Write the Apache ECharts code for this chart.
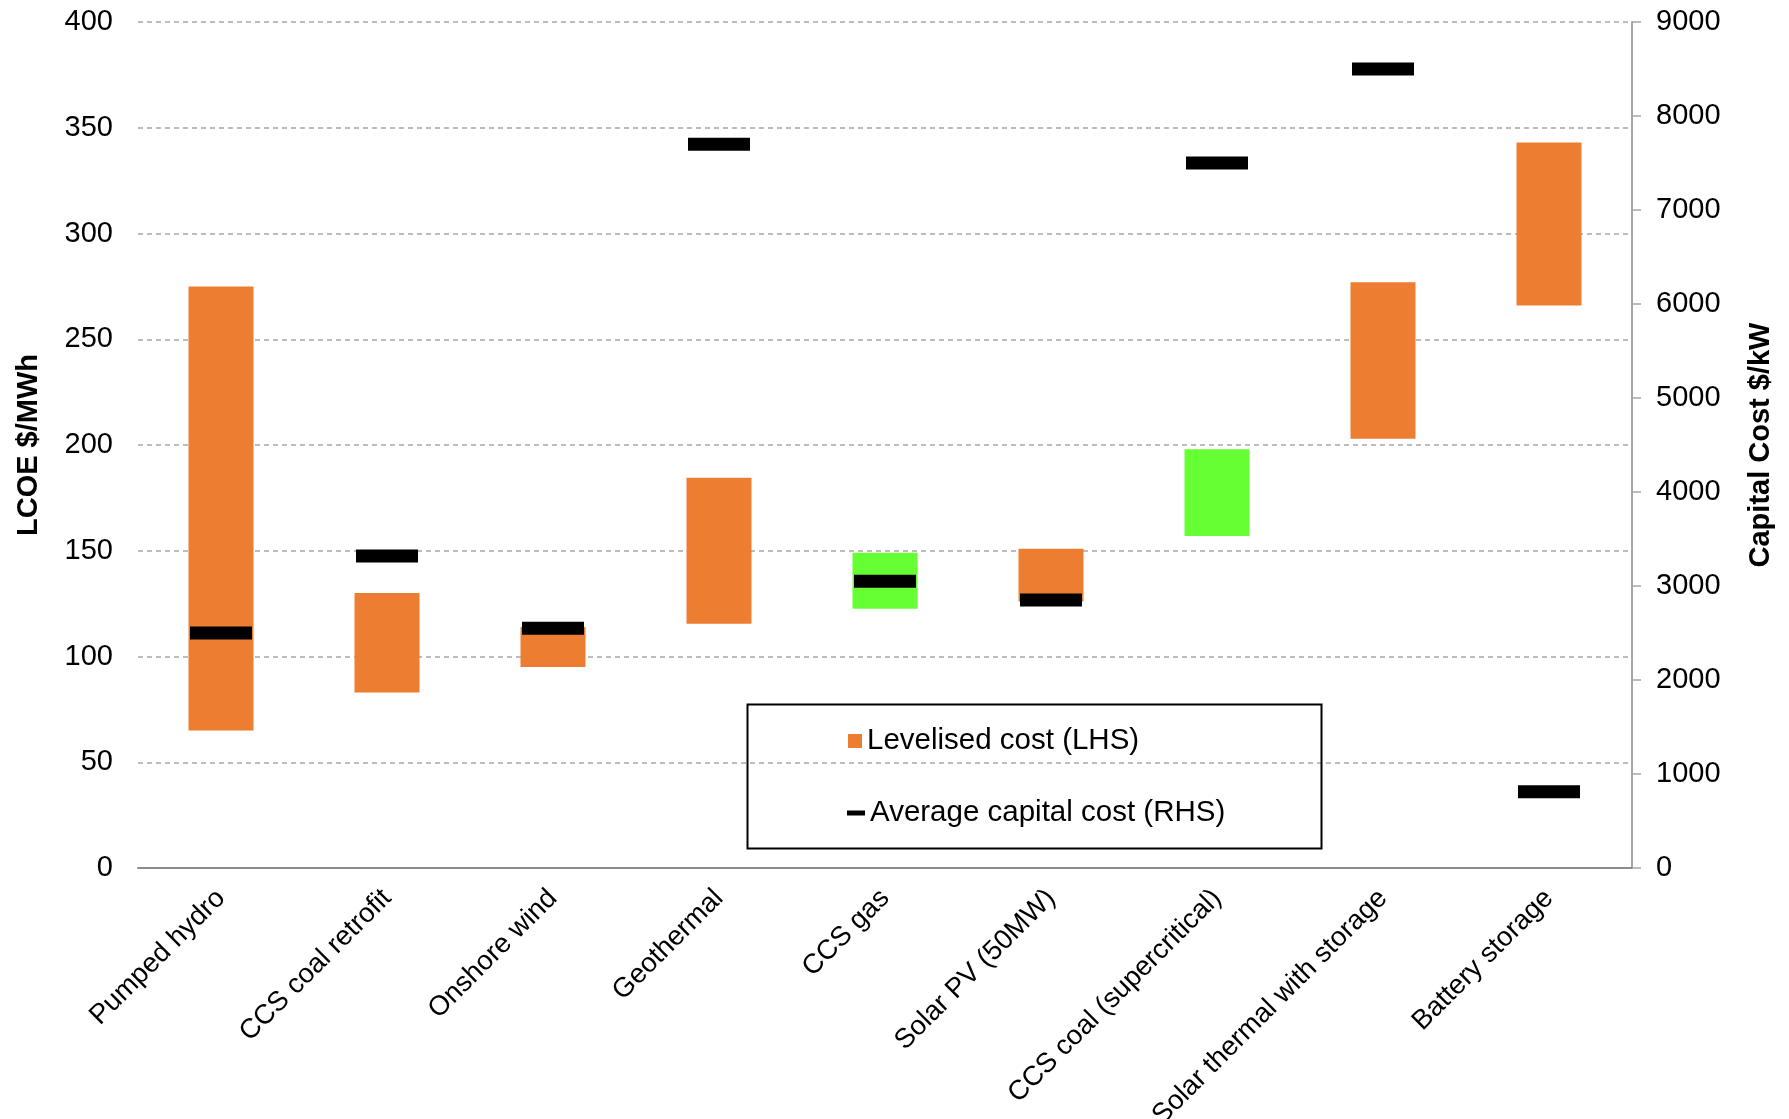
<!DOCTYPE html>
<html>
<head>
<meta charset="utf-8">
<script src="https://cdn.jsdelivr.net/npm/echarts@6/dist/echarts.min.js"></script>
<style>
html,body{margin:0;padding:0;background:#fff;}
#chart{width:1789px;height:1119px;}
</style>
</head>
<body>
<div id="chart"></div>
<script>
const categories = ['Pumped hydro','CCS coal retrofit','Onshore wind','Geothermal','CCS gas','Solar PV (50MW)','CCS coal (supercritical)','Solar thermal with storage','Battery storage'];
const lcoeLow  = [65, 83, 95, 115.5, 122.6, 126, 157, 203, 266];
const lcoeHigh = [275, 130, 114, 184.5, 149, 151, 198, 277, 343];
const capitalCost = [2500, 3320, 2550, 7700, 3050, 2850, 7500, 8500, 810];
const leftTicks = [0, 400, 50];
const rightTicks = [0, 9000, 1000];

const greenCategories = ['CCS gas', 'CCS coal (supercritical)'];
const ORANGE = '#ED7D31', GREEN = '#66FF33';
const FONT = "'Liberation Sans', Arial, sans-serif";

const chart = echarts.init(document.getElementById('chart'));
const rangeData = categories.map((c, i) => ({
  value: lcoeHigh[i] - lcoeLow[i],
  itemStyle: { color: greenCategories.includes(c) ? GREEN : ORANGE }
}));

chart.setOption({
  animation: false,
  backgroundColor: '#fff',
  textStyle: { fontFamily: FONT },
  grid: { left: 138, right: 157, top: 22, bottom: 251, containLabel: false, outerBoundsMode: 'none' },
  xAxis: {
    type: 'category',
    data: categories,
    axisLine: { show: true, lineStyle: { color: '#8c8c8c', width: 2 } },
    axisTick: { show: false },
    axisLabel: { rotate: 45, fontSize: 27.5, color: '#000', margin: 26, fontFamily: FONT, interval: 0 }
  },
  yAxis: [{
    type: 'value', min: leftTicks[0], max: leftTicks[1], interval: leftTicks[2],
    name: 'LCOE $/MWh', nameLocation: 'middle', nameGap: 95, nameRotate: 90,
    nameTextStyle: { fontSize: 29, fontWeight: 'bold', color: '#000', fontFamily: FONT },
    axisLine: { show: false }, axisTick: { show: false },
    axisLabel: { fontSize: 29, color: '#000', margin: 25, fontFamily: FONT },
    splitLine: { show: true, lineStyle: { color: '#a6a6a6', type: [5, 4], width: 1.5 } }
  }, {
    type: 'value', position: 'right', min: rightTicks[0], max: rightTicks[1], interval: rightTicks[2],
    name: 'Capital Cost $/kW', nameLocation: 'middle', nameGap: 114, nameRotate: 90,
    nameTextStyle: { fontSize: 29, fontWeight: 'bold', color: '#000', fontFamily: FONT },
    axisLine: { show: true, lineStyle: { color: '#a6a6a6', width: 2 } },
    axisTick: { show: true, length: 9, lineStyle: { color: '#a6a6a6', width: 1.5 } },
    axisLabel: { fontSize: 29, color: '#000', margin: 24, fontFamily: FONT, formatter: v => String(v) },
    splitLine: { show: false }
  }],
  legend: [{
    data: [{ name: 'Levelised cost (LHS)', itemStyle: { color: ORANGE } }],
    left: 848, top: 726, padding: 0, icon: 'rect', itemWidth: 14, itemHeight: 14,
    textStyle: { fontSize: 29.5, color: '#000', fontFamily: FONT }, selectedMode: false
  }, {
    data: [{ name: 'Average capital cost (RHS)', itemStyle: { color: '#000', opacity: 1 } }],
    left: 847, top: 798, padding: 0, icon: 'rect', itemWidth: 18, itemHeight: 5,
    textStyle: { fontSize: 29.5, color: '#000', fontFamily: FONT }, selectedMode: false
  }],
  graphic: [{
    type: 'rect', left: 745, top: 702,
    shape: { width: 574, height: 144 },
    style: { fill: 'none', stroke: '#000', lineWidth: 2 }, z: 1
  }],
  series: [{
    name: 'base', type: 'bar', stack: 'lcoe', data: lcoeLow,
    itemStyle: { color: 'transparent' }, barWidth: 65, silent: true
  }, {
    name: 'Levelised cost (LHS)', type: 'bar', stack: 'lcoe', data: rangeData,
    itemStyle: { color: ORANGE }, barWidth: 65
  }, {
    name: 'Average capital cost (RHS)', type: 'scatter', yAxisIndex: 1, data: capitalCost,
    symbol: 'rect', symbolSize: [62, 13], itemStyle: { color: '#000', opacity: 1 }, z: 5
  }]
});
</script>
</body>
</html>
